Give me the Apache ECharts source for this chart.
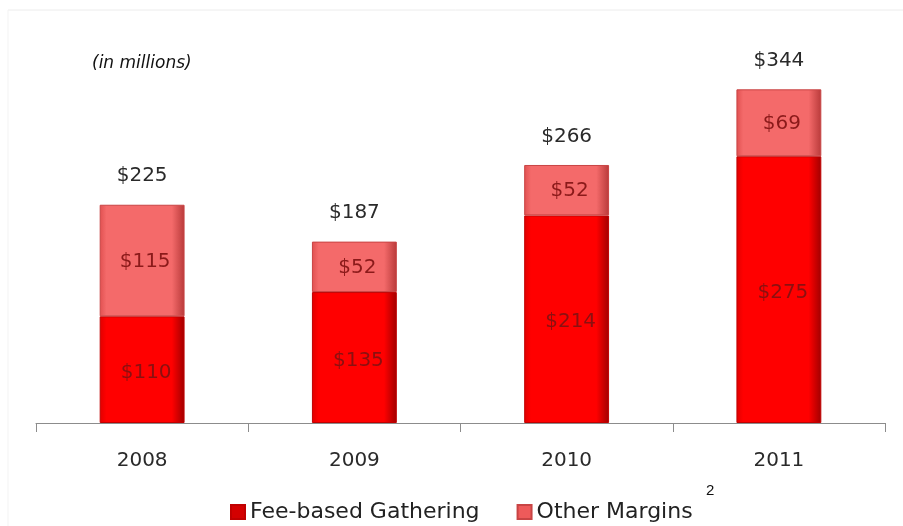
<!DOCTYPE html>
<html><head><meta charset="utf-8">
<script src="https://cdn.jsdelivr.net/npm/echarts@6/dist/echarts.min.js"></script>
<style>html,body{margin:0;padding:0;background:#fff}#c{width:903px;height:526px}</style>
</head><body><div id="c"></div>
<script>
var categories = ['2008', '2009', '2010', '2011'];
var feeBased = [110, 135, 214, 275];
var otherMargins = [115, 52, 52, 69];
var totals = [225, 187, 266, 344];

var font = '"DejaVu Sans", "Open Sans", sans-serif';
var chart = echarts.init(document.getElementById('c'));
function grad(light, mid, dark) {
  return new echarts.graphic.LinearGradient(0, 0, 1, 0, [
    {offset: 0, color: mid}, {offset: 0.08, color: light}, {offset: 0.85, color: light},
    {offset: 1, color: dark}
  ]);
}
chart.setOption({
  animation: false,
  backgroundColor: '#fff',
  grid: {left: 36, right: 18, top: 35, bottom: 103},
  xAxis: {
    type: 'category', data: categories,
    axisLine: {lineStyle: {color: '#8c8c8c', width: 1}},
    axisTick: {show: true, length: 9, inside: false, lineStyle: {color: '#8c8c8c'}},
    axisLabel: {color: '#2a2a2a', fontSize: 20, fontFamily: font, margin: 28}
  },
  yAxis: {type: 'value', min: 0, max: 400, show: false, splitLine: {show: false}},
  legend: {
    top: 496, left: 225, itemWidth: 14, itemHeight: 14, itemGap: 37,
    textStyle: {fontSize: 22, color: '#222', fontFamily: font},
    data: [
      {name: 'Fee-based Gathering', icon: 'rect', itemStyle: {color: '#d40000'}},
      {name: 'Other Margins', icon: 'rect', itemStyle: {color: '#ee5a5a'}}
    ]
  },
  graphic: [
    {type: 'text', left: 92, top: 55, style: {text: '(in millions)', font: 'italic 17px "DejaVu Sans", sans-serif', fill: '#111'}},
    {type: 'text', left: 706, top: 483, style: {text: '2', font: '15px "Liberation Sans", Arial, sans-serif', fill: '#111'}},
    {type: 'line', shape: {x1: 8, y1: 10, x2: 903, y2: 10}, style: {stroke: '#ececec', lineWidth: 1}},
    {type: 'line', shape: {x1: 8, y1: 10, x2: 8, y2: 526}, style: {stroke: '#f3f3f3', lineWidth: 1}}
  ],
  series: [
    {
      name: 'Fee-based Gathering', type: 'bar', stack: 'a', barWidth: '40%', data: feeBased,
      itemStyle: {color: grad('#ff0000', '#e00000', '#a00000'), borderColor: '#c00000', borderWidth: 1},
      label: {show: true, position: 'inside', offset: [4, 3], formatter: '${c}', color: '#8b1010', fontSize: 20, fontFamily: font}
    },
    {
      name: 'Other Margins', type: 'bar', stack: 'a', barWidth: '40%', data: otherMargins,
      itemStyle: {color: grad('#f46a6a', '#e05050', '#b83a3a'), borderColor: '#c84444', borderWidth: 1},
      label: {show: true, position: 'inside', offset: [3, 1], formatter: '${c}', color: '#8b1a1a', fontSize: 20, fontFamily: font}
    },
    {
      name: 'Total', type: 'line', data: totals, symbol: 'circle', symbolSize: 1,
      lineStyle: {color: 'rgba(0,0,0,0)', width: 0}, itemStyle: {color: 'rgba(0,0,0,0)'}, silent: true,
      label: {show: true, position: 'top', distance: 18, formatter: '${c}', color: '#2a2a2a', fontSize: 20, fontFamily: font}
    }
  ]
});
</script></body></html>
